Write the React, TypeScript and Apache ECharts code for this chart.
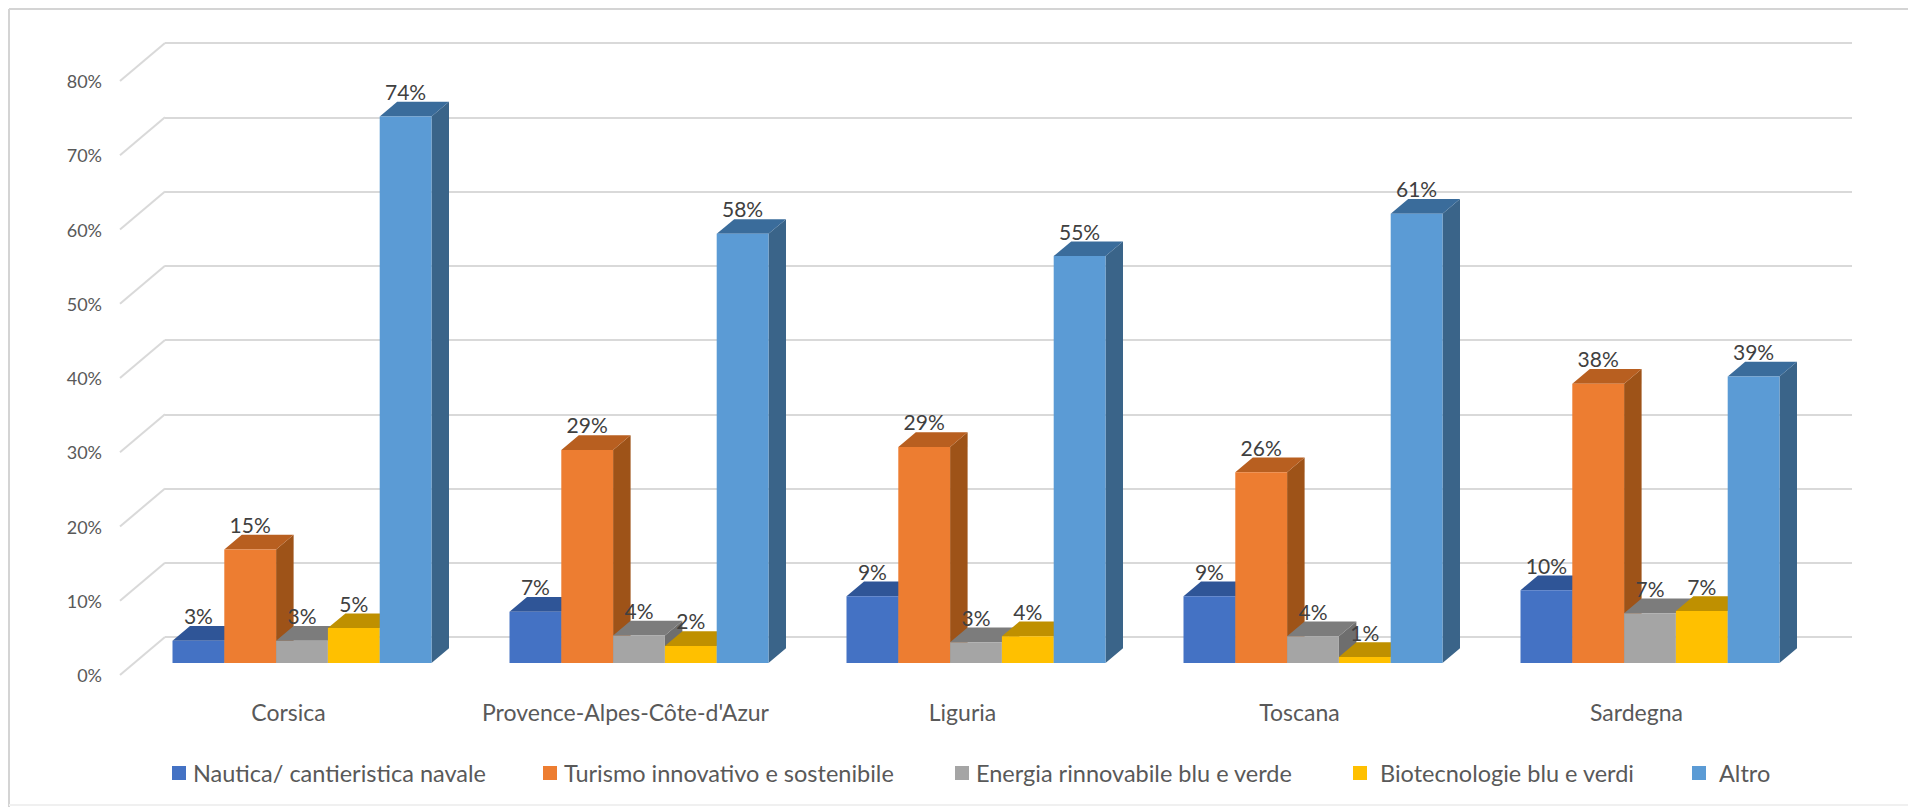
import React, { useEffect, useRef } from "react";
import * as echarts from "echarts";

const categories = ["Corsica", "Provence-Alpes-Côte-d'Azur", "Liguria", "Toscana", "Sardegna"];
const nautica = [3.0, 6.9, 9.0, 9.0, 9.8];
const turismo = [15.3, 28.7, 29.1, 25.7, 37.6];
const energia = [3.0, 3.7, 2.8, 3.6, 6.7];
const biotec = [4.7, 2.3, 3.6, 0.8, 7.0];
const altro = [73.6, 57.8, 54.8, 60.5, 38.6];
const yTicks = [0, 10, 20, 30, 40, 50, 60, 70, 80];

const seriesDefs = [
  { name: "Nautica/ cantieristica navale", values: nautica, color: "#4472C4", top: "#2F5597", side: "#2F5597", legendX: 172, legendGap: 2 },
  { name: "Turismo innovativo e sostenibile", values: turismo, color: "#ED7D31", top: "#B85F20", side: "#9E5318", legendX: 543, legendGap: 2 },
  { name: "Energia rinnovabile blu e verde", values: energia, color: "#A5A5A5", top: "#7C7C7C", side: "#6E6E6E", legendX: 955, legendGap: 2 },
  { name: "Biotecnologie blu e verdi", values: biotec, color: "#FFC000", top: "#BF9000", side: "#A67C00", legendX: 1353, legendGap: 8 },
  { name: "Altro", values: altro, color: "#5B9BD5", top: "#3A6C9B", side: "#3A6489", legendX: 1692, legendGap: 8 },
];

const FONT = "Lato, 'Open Sans', sans-serif";
const GRID = "#D9D9D9";
const BAR_W = 51.8;
const DEPTH_X = 17.5;
const DEPTH_Y = 14.7;
const OFFSET_X = 13.5;
const OFFSET_Y = -12;

export default function App() {
  const ref = useRef<HTMLDivElement>(null);
  useEffect(() => {
    const chart = echarts.init(ref.current!, null, { renderer: "svg" });
    const barSeries = seriesDefs.map((s, idx) => ({
      type: "custom",
      name: s.name,
      xAxisIndex: 0,
      yAxisIndex: 0,
      clip: false,
      z: 5,
      itemStyle: { color: s.color },
      data: s.values.map((v, i) => [i, v]),
      encode: { x: 0, y: 1 },
      renderItem: (_p: any, api: any) => {
        const c = api.coord([api.value(0), api.value(1)]);
        const b = api.coord([api.value(0), 0]);
        const x0 = c[0] + OFFSET_X + (idx - 2.5) * BAR_W;
        const x1 = x0 + BAR_W;
        const yt = c[1] + OFFSET_Y;
        const yb = b[1] + OFFSET_Y;
        return {
          type: "group",
          children: [
            {
              type: "polygon",
              shape: { points: [[x1, yt], [x1 + DEPTH_X, yt - DEPTH_Y], [x1 + DEPTH_X, yb - DEPTH_Y], [x1, yb]] },
              style: { fill: s.side },
            },
            {
              type: "polygon",
              shape: { points: [[x0, yt], [x0 + DEPTH_X, yt - DEPTH_Y], [x1 + DEPTH_X, yt - DEPTH_Y], [x1, yt]] },
              style: { fill: s.top },
            },
            {
              type: "rect",
              shape: { x: x0, y: yt, width: BAR_W, height: yb - yt },
              style: { fill: s.color },
            },
          ],
        };
      },
    }));
    const labelSeries = seriesDefs.map((s, idx) => ({
      type: "custom",
      xAxisIndex: 0,
      yAxisIndex: 0,
      clip: false,
      z: 6,
      silent: true,
      data: s.values.map((v, i) => [i, v]),
      encode: { x: 0, y: 1 },
      renderItem: (_p: any, api: any) => {
        const c = api.coord([api.value(0), api.value(1)]);
        const x0 = c[0] + OFFSET_X + (idx - 2.5) * BAR_W;
        return {
          type: "text",
          style: {
            text: Math.round(api.value(1)) + "%",
            x: x0 + BAR_W / 2,
            y: c[1] + OFFSET_Y - 25,
            align: "center",
            verticalAlign: "middle",
            fontSize: 21,
            fontFamily: FONT,
            fill: "#404040",
          },
        };
      },
    }));
    chart.setOption({
      animation: false,
      backgroundColor: "#FFFFFF",
      graphic: [
        { type: "line", silent: true, z: -1, shape: { x1: 9, y1: 9, x2: 1908, y2: 9 }, style: { stroke: "#D4D4D4", lineWidth: 2 } },
        { type: "line", silent: true, z: -1, shape: { x1: 9, y1: 9, x2: 9, y2: 807 }, style: { stroke: "#D4D4D4", lineWidth: 2 } },
        { type: "line", silent: true, z: -1, shape: { x1: 9, y1: 805, x2: 1908, y2: 805 }, style: { stroke: "#F0F0F0", lineWidth: 2 } },
      ],
      legend: seriesDefs.map((s) => ({
        data: [s.name],
        left: s.legendX - 5,
        top: 756,
        icon: "rect",
        itemWidth: 14,
        itemHeight: 14,
        textStyle: { fontFamily: FONT, fontSize: 23.5, color: "#595959", padding: [0, 0, 0, s.legendGap] },
      })),
      grid: [
        { left: 120, top: 81, width: 1685, height: 594 },
        { left: 165, top: 43, width: 1687, height: 594 },
      ],
      xAxis: [
        {
          type: "category",
          gridIndex: 0,
          data: categories,
          axisLine: { show: false },
          axisTick: { show: false },
          axisLabel: { interval: 0, fontFamily: FONT, fontSize: 23, color: "#595959", margin: 25 },
        },
        {
          type: "category",
          gridIndex: 1,
          data: categories,
          show: false,
        },
      ],
      yAxis: [
        {
          type: "value",
          gridIndex: 0,
          min: 0,
          max: 80,
          interval: 10,
          axisLine: { show: false },
          axisTick: { show: false },
          splitLine: { show: false },
          axisLabel: { formatter: "{value}%", fontFamily: FONT, fontSize: 18, color: "#595959", margin: 18 },
        },
        {
          type: "value",
          gridIndex: 1,
          min: 0,
          max: 80,
          interval: 10,
          axisLine: { show: false },
          axisTick: { show: false },
          axisLabel: { show: false },
          splitLine: { show: true, lineStyle: { color: GRID, width: 2 } },
        },
      ],
      series: [
        {
          type: "custom",
          xAxisIndex: 0,
          yAxisIndex: 0,
          clip: false,
          silent: true,
          z: 1,
          data: yTicks.map((v) => [0, v]),
          encode: { x: 0, y: 1 },
          renderItem: (p: any, api: any) => {
            const c = api.coord([0, api.value(1)]);
            const left = p.coordSys.x;
            return {
              type: "line",
              shape: { x1: left, y1: c[1], x2: left + 45, y2: c[1] - 38 },
              style: { stroke: GRID, lineWidth: 2 },
            };
          },
        },
        ...barSeries,
        ...labelSeries,
      ],
    });
    return () => chart.dispose();
  }, []);
  return <div ref={ref} style={{ position: "fixed", left: 0, top: 0, width: 1908, height: 807 }} />;
}
